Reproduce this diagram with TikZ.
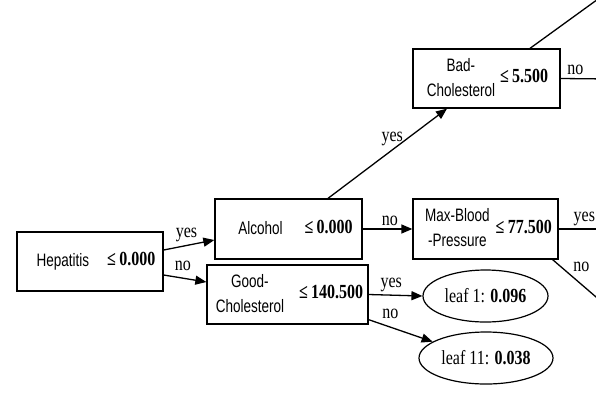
\documentclass[tikz,border=0pt]{standalone}
\usepackage{fontspec}
\setmainfont[FakeStretch=0.8]{Liberation Serif}
\setsansfont[FakeStretch=0.75]{Liberation Sans}
\usetikzlibrary{arrows.meta,shapes.geometric}

\providecommand{\treeVarFont}{\sffamily\fontsize{18}{25}\selectfont}
\providecommand{\treeValFont}{\rmfamily\bfseries\fontsize{20}{22}\selectfont}
\providecommand{\treeEdgeFont}{\rmfamily\fontsize{20}{22}\selectfont}
% #1 gap, #2 attribute (may use \\), #3 threshold
\newcommand{\splitcond}[3]{{\treeVarFont\begin{tabular}{@{}c@{}}#2\end{tabular}}\hspace{#1}{\treeValFont ≤\,#3}}

\tikzset{
  testbox/.style={draw, rectangle, inner sep=0pt, line width=1.3pt},
  leafnode/.style={draw, ellipse, inner sep=0pt, line width=1.2pt, font=\treeEdgeFont},
  branch/.style={line width=1.3pt, -{Triangle[length=11pt,width=9pt]}},
  branchlabel/.style={font=\treeEdgeFont, inner sep=1pt, above=2pt},
}

\begin{document}
\begin{tikzpicture}
% Decision tree, coordinates in image pixels (y downwards)
\def\pxsz{1pt}
\begin{scope}[x=\pxsz, y=-\pxsz, line join=miter]
  % Canvas
  \useasboundingbox (0,0) rectangle (596,392);
  \clip (0,0) rectangle (596,392);
  % Test nodes
  \node[testbox, minimum width=146pt, minimum height=59pt] (hepatitis) at (90,261.5)
    {\hspace*{12pt}\splitcond{18pt}{Hepatitis}{0.000}};
  \node[testbox, minimum width=147pt, minimum height=60pt] (alcohol) at (288.5,229)
    {\hspace*{14pt}\splitcond{22pt}{Alcohol}{0.000}};
  \node[testbox, minimum width=161pt, minimum height=59pt] (goodchol) at (287.5,294.5)
    {\hspace*{4pt}\splitcond{15pt}{Good-\\Cholesterol}{140.500}};
  \node[testbox, minimum width=145pt, minimum height=60pt] (maxbp) at (485.5,229)
    {\hspace*{6pt}\splitcond{6pt}{Max-Blood\\-Pressure}{77.500}};
  \node[testbox, minimum width=147pt, minimum height=59pt] (badchol) at (486.5,78.5)
    {\hspace*{2pt}\splitcond{5pt}{Bad-\\Cholesterol}{5.500}};
  % Leaves
  \node[leafnode, minimum width=125pt, minimum height=52pt] (leafone) at (485.5,296)
    {leaf 1: \textbf{0.096}};
  \node[leafnode, minimum width=134pt, minimum height=52pt] (leafeleven) at (486,358)
    {leaf 11: \textbf{0.038}};
  % Free ends of branches leaving the picture
  \coordinate (badcholyes) at (605,-6);
  \coordinate (badcholno) at (610,79);
  \coordinate (maxbpyes) at (610,229);
  \coordinate (maxbpno) at (610,309);
  % Branches
  \draw[branch] ([yshift=11.5pt]hepatitis.east) -- node[branchlabel, pos=0.45] {yes} ([yshift=-11pt]alcohol.west);
  \draw[branch] ([yshift=-13.5pt]hepatitis.east) -- node[branchlabel, pos=0.45, above=4pt] {no} ([yshift=12.5pt]goodchol.west);
  \draw[branch] ([xshift=39.5pt]alcohol.north) -- node[branchlabel, pos=0.54] {yes} ([xshift=-39.5pt]badchol.south);
  \draw[branch] (alcohol.east) -- node[branchlabel, pos=0.55] {no} (maxbp.west);
  \draw[branch] (goodchol.east) -- node[branchlabel, pos=0.42] {yes} (leafone.west);
  \draw[branch] ([yshift=5pt]goodchol.south east) -- node[branchlabel, pos=0.34, above=5pt] {no} (leafeleven.163);
  \draw[line width=1.3pt] ([xshift=43.5pt]badchol.north) -- (badcholyes);
  \draw[line width=1.3pt] (badchol.east) -- node[branchlabel, pos=0.3] {no} (badcholno);
  \draw[line width=1.3pt] (maxbp.east) -- node[branchlabel, pos=0.5] {yes} (maxbpyes);
  \draw[line width=1.3pt] ([xshift=-6pt]maxbp.south east) -- node[branchlabel, pos=0.5, above=9pt] {no} (maxbpno);
\end{scope}
\end{tikzpicture}
\end{document}
